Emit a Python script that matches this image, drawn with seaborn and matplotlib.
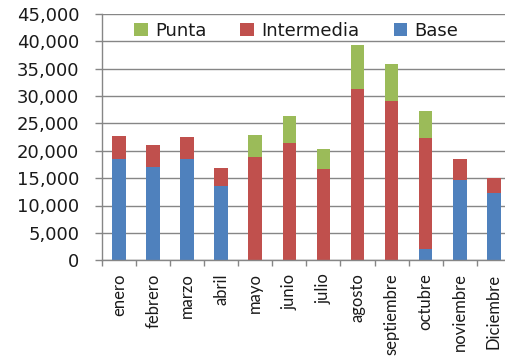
import matplotlib
matplotlib.use("Agg")
import matplotlib.pyplot as plt
import seaborn as sns
import pandas as pd
import numpy as np
from matplotlib.ticker import FuncFormatter

months = ["enero", "febrero", "marzo", "abril", "mayo", "junio", "julio",
          "agosto", "septiembre", "octubre", "noviembre", "Diciembre"]
base = [18400, 17000, 18400, 13600, 0, 0, 0, 0, 0, 2000, 14600, 12200]
intermedia = [4300, 4000, 4100, 3300, 18900, 21400, 16700, 31200, 29000, 20400, 3800, 2800]
punta = [0, 0, 0, 0, 3900, 5000, 3700, 8000, 6800, 4900, 0, 0]

c_base = "#4F81BD"
c_int = "#C0504D"
c_punta = "#9BBB59"

df = pd.DataFrame({"mes": months, "Base": base, "Intermedia": intermedia, "Punta": punta})
df["cum_int"] = df["Base"] + df["Intermedia"]
df["cum_punta"] = df["cum_int"] + df["Punta"]

sns.set_theme(style="white")
plt.rcParams["font.family"] = ["DejaVu Sans"]

fig = plt.figure(figsize=(5.06, 3.64), dpi=100)
ax = fig.add_axes([102 / 506, (364 - 260.3) / 364, 408.8 / 506, (260.3 - 13.7) / 364])

for col, color, lab in [("cum_punta", c_punta, "Punta"),
                        ("cum_int", c_int, "Intermedia"),
                        ("Base", c_base, "Base")]:
    sns.barplot(data=df, x="mes", y=col, color=color, width=0.4, ax=ax,
                label=lab, saturation=1, edgecolor="none", linewidth=0)

ax.set_xlim(-0.5, 11.5)
ax.set_ylim(0, 45000)
ax.set_yticks(np.arange(0, 45001, 5000))
ax.yaxis.set_major_formatter(FuncFormatter(lambda v, p: f"{int(v):,}"))
ax.set_xlabel("")
ax.set_ylabel("")
ax.yaxis.grid(True, color="#868686", linewidth=1)
ax.set_axisbelow(True)

for s in ["top", "right"]:
    ax.spines[s].set_visible(False)
for s in ["left", "bottom"]:
    ax.spines[s].set_color("#868686")
    ax.spines[s].set_linewidth(1)

ax.tick_params(axis="y", which="major", length=5, width=1, color="#868686",
               direction="out", left=True, labelsize=13, pad=11.5, labelcolor="#1a1a1a")
ax.set_xticks(np.arange(12))
ax.set_xticklabels(months, rotation=90, fontsize=12, family="Lato", color="#1a1a1a",
                   va="top", ha="center")
ax.tick_params(axis="x", which="major", length=0, pad=9.5)
ax.set_xticks(np.arange(-0.5, 12, 1), minor=True)
ax.tick_params(axis="x", which="minor", length=4.5, width=1, color="#868686",
               direction="out", bottom=True)

handles, labels = ax.get_legend_handles_labels()
leg = ax.legend(handles, labels, loc="upper center", bbox_to_anchor=(0.5 - 0.025, 1.01),
                ncol=3, frameon=False, fontsize=13, handlelength=0.75, handleheight=0.75,
                columnspacing=1.9, handletextpad=0.4, borderaxespad=0.2)
for t in leg.get_texts():
    t.set_color("#1a1a1a")

fig.savefig("out.png", dpi=100)
